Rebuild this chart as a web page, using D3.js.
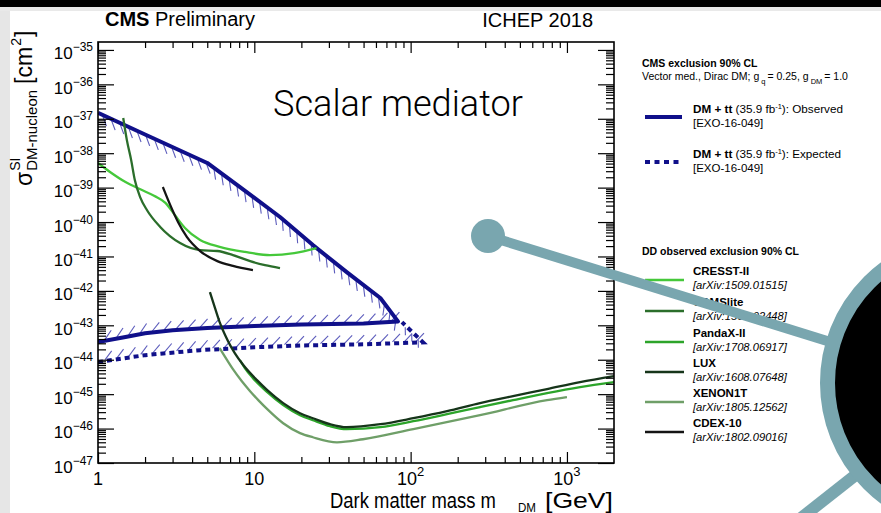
<!DOCTYPE html>
<html><head><meta charset="utf-8">
<script src="https://cdn.jsdelivr.net/npm/d3@7"></script>
<style>
html,body{margin:0;padding:0;background:#fff;}
svg{display:block;font-family:"Liberation Sans",Arial,Helvetica,sans-serif;}
</style></head>
<body><svg id="c" width="881" height="513"></svg>
<script>
// ---------------- data ----------------
const massTicks = [1, 10, 100, 1000];
const xTickBase = ["1", "10", "10", "10"];
const xTickExp  = ["", "", "2", "3"];
const yTickExp  = [-47,-46,-45,-44,-43,-42,-41,-40,-39,-38,-37,-36,-35];

// CMS DM + tt observed (contour: upper and lower branch, meeting at tip)
const obsUpperMass  = [1, 2, 5, 8.1, 14.6, 23.7, 39, 64, 83];
const obsUpperSigma = [1.48e-37, 3.5e-38, 5.2e-39, 1.04e-39, 1.4e-40, 2.14e-41, 3.5e-42, 6.2e-43, 1.3e-43];
const obsLowerMass  = [1, 1.5, 2, 3, 5, 10, 20, 50, 83];
const obsLowerSigma = [3.25e-44, 4.6e-44, 5.9e-44, 7.2e-44, 8.3e-44, 9.5e-44, 1.05e-43, 1.12e-43, 1.3e-43];
// CMS expected (visible part: lower branch and right tip)
const expMass  = [1, 2, 4.5, 10, 20, 50, 120, 88];
const expSigma = [8.5e-45, 1.36e-44, 1.9e-44, 2.3e-44, 2.6e-44, 2.8e-44, 3.2e-44, 1.24e-43];

// Direct detection limits
const cresstMass  = [1.0, 1.2, 1.5, 1.85, 2.3, 2.7, 3.1, 3.6, 4.5, 6.0, 8.7, 12.6, 18, 25];
const cresstSigma = [5.2e-39, 2.8e-39, 1.45e-39, 9.1e-40, 5.7e-40, 3.6e-40, 1.6e-40, 6.7e-41, 3.0e-41, 1.9e-41, 1.35e-41, 1.1e-41, 1.25e-41, 1.75e-41];
const cdmsMass  = [1.45, 1.53, 1.63, 1.72, 1.86, 2.06, 2.5, 3.35, 4.5, 5.8, 7.3, 9.4, 11.7, 14.6];
const cdmsSigma = [1.05e-37, 2.4e-38, 6.3e-39, 1.66e-39, 5.3e-40, 2.2e-40, 7.2e-41, 2.45e-41, 1.53e-41, 1.44e-41, 1.1e-41, 7.3e-42, 5.6e-42, 4.6e-42];
const pandaMass  = [8.1, 8.7, 9.8, 12.1, 15.3, 19.6, 23.7, 30.5, 39, 64, 104, 171, 278, 452, 746, 1213, 2000];
const pandaSigma = [9.7e-45, 5.7e-45, 2.92e-45, 1.14e-45, 4.8e-46, 2.45e-46, 1.75e-46, 1.17e-46, 9.6e-47, 1.1e-46, 1.64e-46, 2.62e-46, 4.2e-46, 6.7e-46, 1.07e-45, 1.6e-45, 2.23e-45];
const luxMass  = [5.2, 5.6, 6.0, 6.5, 7.0, 7.5, 8.5, 10.4, 12.1, 15.3, 19.6, 23.7, 30.5, 39, 64, 104, 171, 278, 452, 746, 1213, 2000];
const luxSigma = [9.2e-43, 3.2e-43, 1.24e-43, 5.2e-44, 2.65e-44, 1.56e-44, 7.0e-45, 2.55e-45, 1.31e-45, 5.5e-46, 2.8e-46, 2.0e-46, 1.34e-46, 1.1e-46, 1.34e-46, 2.0e-46, 3.2e-46, 5.5e-46, 8.75e-46, 1.4e-45, 2.23e-45, 3.34e-45];
const xenonMass  = [6.0, 6.7, 7.3, 8.3, 9.4, 10.6, 12.1, 15.3, 19.6, 23.7, 33.8, 49.6, 104, 278, 746, 1000];
const xenonSigma = [2.17e-44, 9.7e-45, 5.3e-45, 2.4e-45, 1.22e-45, 6.7e-46, 3.66e-46, 1.43e-46, 7.4e-47, 5.6e-47, 4.0e-47, 4.9e-47, 9.6e-47, 2.45e-46, 6.7e-46, 8.2e-46];
const cdexMass  = [2.6, 2.9, 3.25, 3.7, 4.5, 5.8, 7.3, 9.8];
const cdexSigma = [1.04e-39, 3.1e-40, 1.0e-40, 3.7e-41, 1.44e-41, 7.3e-42, 5.3e-42, 4.0e-42];

const ddNames  = ["CRESST-II", "CDMSlite", "PandaX-II", "LUX", "XENON1T", "CDEX-10"];
const ddRefs   = ["[arXiv:1509.01515]", "[arXiv:1509.02448]", "[arXiv:1708.06917]", "[arXiv:1608.07648]", "[arXiv:1805.12562]", "[arXiv:1802.09016]"];
const ddColors = ["#45c83a", "#2b6e2b", "#2ca42a", "#16351a", "#6f9f68", "#141414"];
const ddMass   = [cresstMass, cdmsMass, pandaMass, luxMass, xenonMass, cdexMass];
const ddSigma  = [cresstSigma, cdmsSigma, pandaSigma, luxSigma, xenonSigma, cdexSigma];

// ---------------- drawing ----------------
const svg = d3.select("#c");
const navy = "#10108a", hatchCol = "#5c5cbc", teal = "#79a6af";
const x = d3.scaleLog().domain([1, 2000]).range([98, 614]);
const y = d3.scaleLog().domain([1e-47, 1.7e-35]).range([463, 42]);

// background
svg.append("rect").attr("width", 881).attr("height", 513).attr("fill", "#fff");
svg.append("rect").attr("x", 0).attr("y", 0).attr("width", 10).attr("height", 513).attr("fill", "#e6e6e6");
svg.append("rect").attr("x", 0).attr("y", 7).attr("width", 881).attr("height", 4).attr("fill", "#e9e9e9");
svg.append("rect").attr("x", 0).attr("y", 0).attr("width", 881).attr("height", 7).attr("fill", "#000");

svg.append("clipPath").attr("id", "clip").append("rect")
  .attr("x", 98).attr("y", 42).attr("width", 516).attr("height", 421);
const plot = svg.append("g").attr("clip-path", "url(#clip)");

const P = (ms, ss) => ms.map((m, i) => [x(m), y(ss[i])]);

function hatch(pts, side, spacing, len) {
  const out = [];
  let acc = spacing * 0.5;
  for (let i = 0; i < pts.length - 1; i++) {
    const [x0, y0] = pts[i], [x1, y1] = pts[i + 1];
    const dx = x1 - x0, dy = y1 - y0, L = Math.hypot(dx, dy);
    if (L === 0) continue;
    let tx = dx / L, ty = dy / L;
    if (tx < 0) { tx = -tx; ty = -ty; }
    const nx = side === "below" ? -ty : ty, ny = side === "below" ? tx : -tx;
    const ux = (nx + tx) * Math.SQRT1_2, uy = (ny + ty) * Math.SQRT1_2;
    while (acc <= L) {
      const px = x0 + dx / L * acc, py = y0 + dy / L * acc;
      out.push([px + ux * 2, py + uy * 2, px + ux * len, py + uy * len]);
      acc += spacing;
    }
    acc -= L;
  }
  return out;
}
function drawHatch(segs) {
  plot.append("g").selectAll("line").data(segs).join("line")
    .attr("x1", d => d[0]).attr("y1", d => d[1]).attr("x2", d => d[2]).attr("y2", d => d[3])
    .attr("stroke", hatchCol).attr("stroke-width", 1.1);
}

const obsUp = P(obsUpperMass, obsUpperSigma);
const obsLo = P(obsLowerMass, obsLowerSigma);
const expPts = P(expMass, expSigma);
drawHatch(hatch(obsUp, "below", 9.5, 12));
drawHatch(hatch(obsLo, "above", 12, 13));
drawHatch(hatch(expPts.slice(0, 7), "above", 12, 13));
drawHatch(hatch([expPts[7], expPts[6]], "below", 9, 10));

const lin = d3.line();
plot.append("path").attr("d", lin(expPts)).attr("fill", "none").attr("stroke", navy)
  .attr("stroke-width", 4).attr("stroke-dasharray", "5,4");
plot.append("path").attr("d", lin(obsUp.concat(obsLo.slice().reverse()))).attr("fill", "none")
  .attr("stroke", navy).attr("stroke-width", 4).attr("stroke-linejoin", "round");

const smooth = d3.line().curve(d3.curveMonotoneX);
ddMass.forEach((ms, i) => {
  plot.append("path").attr("d", smooth(P(ms, ddSigma[i]))).attr("fill", "none")
    .attr("stroke", ddColors[i]).attr("stroke-width", 2.3);
});

// axes
const yMajor = yTickExp.map(e => Math.pow(10, e));
const yMinor = [];
yTickExp.forEach(e => { for (let k = 2; k <= 9; k++) { const v = k * Math.pow(10, e); if (v < 1.7e-35) yMinor.push(v); } });
const xMinor = [];
[1, 10, 100, 1000].forEach(d => { for (let k = 2; k <= 9; k++) { const v = k * d; if (v < 2000) xMinor.push(v); } });

function ax(gen, tx, ty, vals, size) {
  const g = svg.append("g").attr("transform", `translate(${tx},${ty})`)
    .call(gen.tickValues(vals).tickSize(size).tickFormat(""));
  g.select(".domain").remove();
  g.selectAll("line").attr("stroke", "#000").attr("stroke-width", 1.2);
}
ax(d3.axisLeft(y), 98, 0, yMajor, -16);
ax(d3.axisLeft(y), 98, 0, yMinor, -8);
ax(d3.axisRight(y), 614, 0, yMajor, -16);
ax(d3.axisRight(y), 614, 0, yMinor, -8);
ax(d3.axisBottom(x), 0, 463, massTicks, -11);
ax(d3.axisBottom(x), 0, 463, xMinor, -6);
ax(d3.axisTop(x), 0, 42, massTicks, -11);
ax(d3.axisTop(x), 0, 42, xMinor, -6);
svg.append("rect").attr("x", 98).attr("y", 42).attr("width", 516).attr("height", 421)
  .attr("fill", "none").attr("stroke", "#000").attr("stroke-width", 1.6);

// tick labels
svg.append("g").selectAll("text").data(massTicks).join("text")
  .attr("x", d => x(d)).attr("y", 485).attr("text-anchor", "middle").style("font-size", "18px")
  .each(function (d, i) {
    const t = d3.select(this);
    t.append("tspan").text(xTickBase[i]);
    if (xTickExp[i]) t.append("tspan").attr("dy", -9).style("font-size", "13px").text(xTickExp[i]);
  });
svg.append("g").selectAll("text").data(yTickExp).join("text")
  .attr("x", 93).attr("y", e => y(Math.pow(10, e)) + 9.5).attr("text-anchor", "end").style("font-size", "17px")
  .each(function (e) {
    const t = d3.select(this);
    t.append("tspan").text("10");
    t.append("tspan").attr("dy", -8).style("font-size", "12px").text("\u2212" + Math.abs(e));
  });

// titles
const hdr = svg.append("text").attr("x", 105).attr("y", 26).style("font-size", "20px");
hdr.append("tspan").attr("font-weight", "bold").text("CMS");
hdr.append("tspan").text(" Preliminary");
svg.append("text").attr("x", 593).attr("y", 27).attr("text-anchor", "end").style("font-size", "20px").text("ICHEP 2018");

// condensed text helper (the reference's text is horizontally squeezed)
function condensed(txt, x0, yb, size, width, family, weight) {
  const t = svg.append("text").attr("x", 0).attr("y", 0).style("font-size", size + "px").text(txt);
  if (family) t.style("font-family", family);
  if (weight) t.attr("font-weight", weight);
  const w = t.node().getComputedTextLength();
  t.attr("transform", `translate(${x0},${yb}) scale(${width / w},1)`);
}
condensed("Scalar mediator", 273, 116, 37, 250, "Roboto, 'Liberation Sans', Arial, sans-serif", 300);
condensed("Dark matter mass m", 330, 508, 21.5, 166);
condensed("DM", 518, 512, 12, 18);
condensed("[GeV]", 545, 508, 21.5, 68);

// y title (rotated)
const yt = svg.append("g").attr("transform", "translate(32,186) rotate(-90)");
const tSig = yt.append("text").attr("x", 0).attr("y", 0).style("font-size", "23px").text("\u03c3");
const w1 = tSig.node().getComputedTextLength() + 1;
const tSup = yt.append("text").attr("x", w1).attr("y", -12).style("font-size", "14px").text("SI");
const tSub = yt.append("text").attr("x", w1).attr("y", 5).style("font-size", "15px").text("DM-nucleon");
const w2 = Math.max(tSup.node().getComputedTextLength(), tSub.node().getComputedTextLength());
const tU = yt.append("text").attr("x", w1 + w2 + 6).attr("y", 0).style("font-size", "23px").text("[cm");
const w3 = tU.node().getComputedTextLength();
const tU2 = yt.append("text").attr("x", w1 + w2 + 6 + w3 + 1).attr("y", -11).style("font-size", "14px").text("2");
const w4 = tU2.node().getComputedTextLength();
yt.append("text").attr("x", w1 + w2 + 6 + w3 + w4 + 2).attr("y", 0).style("font-size", "23px").text("]");

// legend (CMS)
const lg = svg.append("g");
lg.append("text").attr("x", 642).attr("y", 67).style("font-size", "10.5px").attr("font-weight", "bold").text("CMS exclusion 90% CL");
const vt = lg.append("text").attr("x", 642).attr("y", 80).style("font-size", "10.5px");
vt.append("tspan").text("Vector med., Dirac DM; g");
vt.append("tspan").attr("dx", 2).attr("dy", 4).style("font-size", "7.5px").text("q");
vt.append("tspan").attr("dx", 2).attr("dy", -4).text("= 0.25, g");
vt.append("tspan").attr("dx", 2).attr("dy", 4).style("font-size", "7.5px").text("DM");
vt.append("tspan").attr("dx", 2).attr("dy", -4).text("= 1.0");
function cmsEntry(yb, label, dashed) {
  lg.append("line").attr("x1", 645).attr("x2", 682).attr("y1", yb + 4).attr("y2", yb + 4)
    .attr("stroke", navy).attr("stroke-width", 4).attr("stroke-dasharray", dashed ? "5,4.5" : null);
  const t = lg.append("text").attr("x", 693).attr("y", yb).style("font-size", "11.7px");
  t.append("tspan").attr("font-weight", "bold").text("DM + tt");
  t.append("tspan").text(" (35.9 fb");
  t.append("tspan").attr("dy", -4).style("font-size", "7.5px").text("-1");
  t.append("tspan").attr("dy", 4).text("): " + label);
  lg.append("text").attr("x", 693).attr("y", yb + 14).style("font-size", "11.5px").text("[EXO-16-049]");
}
cmsEntry(113, "Observed", false);
cmsEntry(158, "Expected", true);

lg.append("text").attr("x", 642).attr("y", 255).style("font-size", "10.5px").attr("font-weight", "bold").text("DD observed exclusion 90% CL");
const ddY = [275, 306, 337, 367, 397, 427];
ddNames.forEach((n, i) => {
  lg.append("line").attr("x1", 645).attr("x2", 684).attr("y1", ddY[i] + 5).attr("y2", ddY[i] + 5)
    .attr("stroke", ddColors[i]).attr("stroke-width", 2.5);
  lg.append("text").attr("x", 693).attr("y", ddY[i]).style("font-size", "11.5px").attr("font-weight", "bold").text(n);
  lg.append("text").attr("x", 693).attr("y", ddY[i] + 13.5).style("font-size", "11.2px").attr("font-style", "italic").text(ddRefs[i]);
});

// magnifier overlay
const ov = svg.append("g");
ov.append("line").attr("x1", 488).attr("y1", 236).attr("x2", 840).attr("y2", 345).attr("stroke", teal).attr("stroke-width", 10);
ov.append("circle").attr("cx", 488).attr("cy", 236).attr("r", 17).attr("fill", teal);
ov.append("line").attr("x1", 862).attr("y1", 470).attr("x2", 796).attr("y2", 522).attr("stroke", teal).attr("stroke-width", 12);
ov.append("circle").attr("cx", 970).attr("cy", 383).attr("r", 142.5).attr("fill", "#000").attr("stroke", teal).attr("stroke-width", 15);
</script></body></html>
